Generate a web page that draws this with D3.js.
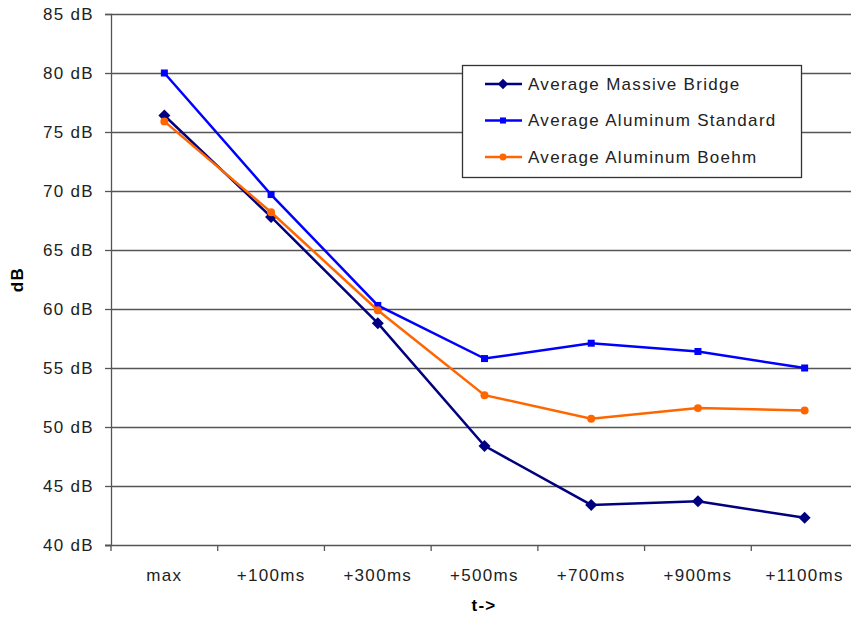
<!DOCTYPE html>
<html>
<head>
<meta charset="utf-8">
<script src="https://cdn.jsdelivr.net/npm/d3@7"></script>
<style>
  body { margin: 0; background: #fff; }
  svg { display: block; font-family: "Liberation Sans", Arial, sans-serif; }
  text { letter-spacing: 1.3px; }
</style>
</head>
<body>
<div id="chart"></div>
<script>
// chart data
const categories = ["max", "+100ms", "+300ms", "+500ms", "+700ms", "+900ms", "+1100ms"];
const massiveBridge = [76.4, 67.8, 58.8, 48.4, 43.4, 43.7, 42.3];
const aluminumStandard = [80.0, 69.7, 60.3, 55.8, 57.1, 56.4, 55.0];
const aluminumBoehm = [75.9, 68.2, 59.9, 52.7, 50.7, 51.6, 51.4];
const yTicks = [40, 45, 50, 55, 60, 65, 70, 75, 80, 85];

const series = [
  { name: "Average Massive Bridge", values: massiveBridge, color: "#000080", symbol: d3.symbolSquare, size: 72, rotate: 45 },
  { name: "Average Aluminum Standard", values: aluminumStandard, color: "#0000ff", symbol: d3.symbolSquare, size: 49, rotate: 0 },
  { name: "Average Aluminum Boehm", values: aluminumBoehm, color: "#ff6600", symbol: d3.symbolCircle, size: 50, rotate: 0 }
];

const width = 851, height = 619;
const margin = { top: 14, right: -7, bottom: 74, left: 111 };
const innerW = width - margin.left - margin.right;
const innerH = height - margin.top - margin.bottom;

const svg = d3.select("#chart")
  .append("svg")
  .attr("width", width)
  .attr("height", height);

const g = svg.append("g")
  .attr("transform", `translate(${margin.left}, ${margin.top})`);

const x = d3.scaleBand().domain(categories).range([0, innerW]);
const y = d3.scaleLinear().domain([40, 85]).range([innerH, 0]);

// horizontal gridlines
g.selectAll(".grid")
  .data(yTicks.slice(1))
  .enter()
  .append("line")
  .attr("class", "grid")
  .attr("x1", 0)
  .attr("x2", innerW)
  .attr("y1", (d) => y(d) + 0.5)
  .attr("y2", (d) => y(d) + 0.5)
  .attr("stroke", "#555")
  .attr("stroke-width", 1.3);

// y axis
const yAxis = g.append("g")
  .call(d3.axisLeft(y).tickValues(yTicks).tickSize(6).tickPadding(11).tickFormat((d) => d + " dB"));
yAxis.select(".domain").attr("stroke", "#555").attr("stroke-width", 1.3);
yAxis.selectAll(".tick line").attr("stroke", "#555").attr("stroke-width", 1.3);
yAxis.selectAll("text").attr("font-size", 17).attr("fill", "#222").attr("dy", "0.35em");

// x axis: ticks at band boundaries
const xAxis = g.append("g").attr("transform", `translate(0, ${innerH})`);
xAxis.append("line")
  .attr("x1", -6).attr("x2", innerW)
  .attr("y1", 0.5).attr("y2", 0.5)
  .attr("stroke", "#555").attr("stroke-width", 1.3);
xAxis.selectAll(".xtick")
  .data(categories)
  .enter()
  .append("line")
  .attr("class", "xtick")
  .attr("x1", (d) => x(d))
  .attr("x2", (d) => x(d))
  .attr("y1", 0)
  .attr("y2", 6)
  .attr("stroke", "#555")
  .attr("stroke-width", 1.3);
xAxis.selectAll(".xlabel")
  .data(categories)
  .enter()
  .append("text")
  .attr("class", "xlabel")
  .attr("x", (d) => x(d) + x.bandwidth() / 2)
  .attr("y", 36)
  .attr("text-anchor", "middle")
  .attr("font-size", 17)
  .attr("fill", "#222")
  .text((d) => d);

// axis titles
svg.append("text")
  .attr("transform", `translate(23, ${margin.top + innerH / 2}) rotate(-90)`)
  .attr("text-anchor", "middle")
  .attr("font-size", 17)
  .attr("font-weight", "bold")
  .text("dB");
svg.append("text")
  .attr("x", 484)
  .attr("y", 611)
  .attr("text-anchor", "middle")
  .attr("font-size", 17)
  .attr("font-weight", "bold")
  .text("t->");

// series lines and markers
const line = d3.line()
  .x((d, i) => x(categories[i]) + x.bandwidth() / 2)
  .y((d) => y(d));

series.forEach((s) => {
  g.append("path")
    .datum(s.values)
    .attr("fill", "none")
    .attr("stroke", s.color)
    .attr("stroke-width", 2.5)
    .attr("d", line);
  g.selectAll(null)
    .data(s.values)
    .enter()
    .append("path")
    .attr("d", d3.symbol().type(s.symbol).size(s.size))
    .attr("transform", (d, i) => `translate(${x(categories[i]) + x.bandwidth() / 2}, ${y(d)}) rotate(${s.rotate})`)
    .attr("fill", s.color);
});

// legend
const legend = svg.append("g").attr("transform", "translate(462, 65)");
legend.append("rect")
  .attr("x", 0.5).attr("y", 0.5)
  .attr("width", 339).attr("height", 112)
  .attr("fill", "#fff")
  .attr("stroke", "#333")
  .attr("stroke-width", 1.3);
series.forEach((s, i) => {
  const row = legend.append("g").attr("transform", `translate(0, ${19 + i * 36.5})`);
  row.append("line")
    .attr("x1", 23).attr("x2", 60)
    .attr("stroke", s.color).attr("stroke-width", 2.5);
  row.append("path")
    .attr("d", d3.symbol().type(s.symbol).size(s.size * 0.75))
    .attr("transform", `translate(41, 0) rotate(${s.rotate})`)
    .attr("fill", s.color);
  row.append("text")
    .attr("x", 66)
    .attr("dy", "0.35em")
    .attr("font-size", 17)
    .attr("fill", "#222")
    .text(s.name);
});
</script>
</body>
</html>
